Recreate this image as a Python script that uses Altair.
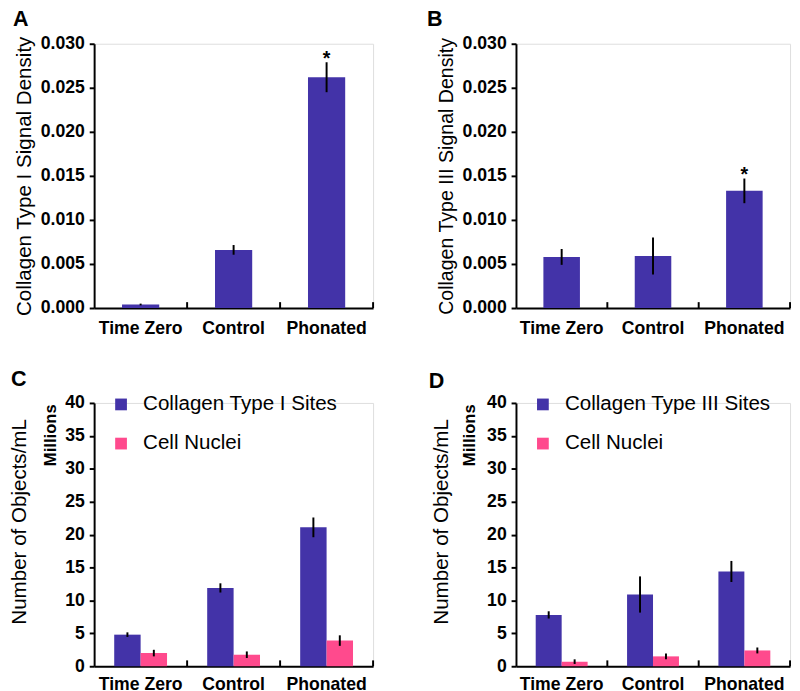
import altair as alt
import pandas as pd

categories = ["Time Zero", "Control", "Phonated"]

# Panel A: Collagen Type I signal density
a_mean = [0.0004, 0.0066, 0.0262]
a_err = [0.0001, 0.00055, 0.0017]
a_sig = ["", "", "*"]

# Panel B: Collagen Type III signal density
b_mean = [0.0058, 0.0059, 0.0133]
b_err = [0.0009, 0.0021, 0.0014]
b_sig = ["", "", "*"]

# Panel C: objects/mL (millions)
c_col_name = "Collagen Type I Sites"
c_col_mean = [4.8, 11.9, 21.1]
c_col_err = [0.35, 0.7, 1.5]
c_nuc_mean = [2.0, 1.75, 3.9]
c_nuc_err = [0.5, 0.5, 0.8]

# Panel D: objects/mL (millions)
d_col_name = "Collagen Type III Sites"
d_col_mean = [7.8, 10.9, 14.4]
d_col_err = [0.55, 2.75, 1.6]
d_nuc_mean = [0.7, 1.5, 2.4]
d_nuc_err = [0.35, 0.45, 0.45]

nuc_name = "Cell Nuclei"

PURPLE = "#4333A8"
PINK = "#FF4A8D"
FONT = "Liberation Sans"


def x_axis(pad):
    return alt.Axis(title=None, ticks=False, labelAngle=0, labelFontSize=18,
                    labelFontWeight="bold", labelPadding=pad, labelColor="black",
                    domainColor="black", domainWidth=2, labelFont=FONT,
                    labelOverlap=False)


def y_axis(title, values, fmt, title_pad, title_size, title_y=None):
    kw = dict(title=title, values=values, format=fmt, grid=False,
              labelFontSize=18, labelFontWeight="bold", labelColor="black",
              labelFont=FONT, labelPadding=5, tickSize=5, tickWidth=2,
              tickColor="black", domainColor="black", domainWidth=2,
              titleFontSize=title_size, titleFontWeight="normal", titleFont=FONT,
              titleColor="black", titlePadding=title_pad, labelOverlap=False)
    if title_y is not None:
        kw["titleY"] = title_y
    return alt.Axis(**kw)


def letter_layer(letter, lx, ly):
    return alt.Chart(pd.DataFrame({"t": [letter]})).mark_text(
        fontSize=22, fontWeight="bold", font=FONT, color="black",
        align="left", baseline="alphabetic").encode(
        x=alt.value(lx), y=alt.value(ly), text="t:N")


def single_panel(letter, mean, err, sig, ytitle, title_size, width, height,
                 title_pad, lx, ly):
    df = pd.DataFrame({
        "cat": categories,
        "mean": mean,
        "lo": [m - e for m, e in zip(mean, err)],
        "hi": [m + e for m, e in zip(mean, err)],
        "sig": sig,
    })
    base = alt.Chart(df)
    xs = alt.Scale(domain=categories, paddingInner=0, paddingOuter=0)
    ys = alt.Scale(domain=[0, 0.03], nice=False)
    xa = x_axis(12)
    ya = y_axis(ytitle, [0, 0.005, 0.01, 0.015, 0.02, 0.025, 0.03], ".3f",
                title_pad, title_size)
    bars = base.mark_bar(width=alt.RelativeBandSize(0.4), color=PURPLE).encode(
        x=alt.X("cat:N", scale=xs, axis=xa),
        y=alt.Y("mean:Q", scale=ys, axis=ya),
    )
    errs = base.mark_rule(strokeWidth=2, color="black").encode(
        x=alt.X("cat:N", scale=xs, axis=xa),
        y=alt.Y("lo:Q", scale=ys, axis=ya), y2="hi:Q")
    star = base.mark_text(fontSize=20, fontWeight="bold", font=FONT,
                          baseline="alphabetic", dy=3, color="black").encode(
        x=alt.X("cat:N", scale=xs, axis=xa),
        y=alt.Y("hi:Q", scale=ys, axis=ya), text="sig:N")
    tks = base.mark_rule(strokeWidth=2, color="black").encode(
        x=alt.X("cat:N", scale=xs, bandPosition=1, axis=xa),
        y=alt.value(height - 6), y2=alt.value(height))
    return alt.layer(bars, errs, star, tks, letter_layer(letter, lx, ly)).properties(
        width=width, height=height)


def grouped_panel(letter, col_name, col_mean, col_err, nuc_mean, nuc_err,
                  width, height, mill_x, lx, ly):
    series = [col_name] * 3 + [nuc_name] * 3
    mean = col_mean + nuc_mean
    err = col_err + nuc_err
    df = pd.DataFrame({
        "cat": categories * 2,
        "series": series,
        "mean": mean,
        "lo": [m - e for m, e in zip(mean, err)],
        "hi": [m + e for m, e in zip(mean, err)],
    })
    base = alt.Chart(df)
    xs = alt.Scale(domain=categories, paddingInner=0, paddingOuter=0)
    xo = alt.Scale(domain=[col_name, nuc_name], paddingInner=0, paddingOuter=0.76)
    ys = alt.Scale(domain=[0, 40], nice=False)
    xa = x_axis(10)
    ya = y_axis("Number of Objects/mL", list(range(0, 41, 5)), "d", 36, 21, 121)
    bars = base.mark_bar().encode(
        x=alt.X("cat:N", scale=xs, axis=xa),
        xOffset=alt.XOffset("series:N", scale=xo),
        y=alt.Y("mean:Q", scale=ys, axis=ya),
        color=alt.Color("series:N",
                        scale=alt.Scale(domain=[col_name, nuc_name],
                                        range=[PURPLE, PINK]),
                        legend=alt.Legend(orient="none", legendX=17, legendY=-9,
                                          title=None, symbolType="square",
                                          symbolSize=144, symbolStrokeWidth=0,
                                          labelFontSize=21, labelFont=FONT,
                                          labelColor="black", labelOffset=12,
                                          rowPadding=18, padding=0,
                                          labelLimit=400)),
    )
    errs = base.mark_rule(strokeWidth=2, color="black").encode(
        x=alt.X("cat:N", scale=xs, axis=xa),
        xOffset=alt.XOffset("series:N", scale=xo),
        y=alt.Y("lo:Q", scale=ys, axis=ya), y2="hi:Q")
    tks = alt.Chart(pd.DataFrame({"cat": categories})).mark_rule(
        strokeWidth=2, color="black").encode(
        x=alt.X("cat:N", scale=xs, bandPosition=1, axis=xa),
        y=alt.value(height - 6), y2=alt.value(height))
    mill = alt.Chart(pd.DataFrame({"t": ["Millions"]})).mark_text(
        angle=270, fontSize=17, fontWeight="bold", font=FONT, color="black",
        align="center", baseline="middle").encode(
        x=alt.value(mill_x), y=alt.value(33), text="t:N")
    return alt.layer(bars, errs, tks, mill, letter_layer(letter, lx, ly)).properties(
        width=width, height=height)


pa = single_panel("A", a_mean, a_err, a_sig, "Collagen Type I Signal Density", 21,
                  285, 270, 6, -83, -18)
pb = single_panel("B", b_mean, b_err, b_sig, "Collagen Type III Signal Density",
                  20, 280, 270, 6, -91, -18)
pc = grouped_panel("C", c_col_name, c_col_mean, c_col_err, c_nuc_mean, c_nuc_err,
                   285, 269, -44, -85, -17)
pd_ = grouped_panel("D", d_col_name, d_col_mean, d_col_err, d_nuc_mean, d_nuc_err,
                    280, 269, -47, -89, -15)

chart = alt.concat(pa, pb, pc, pd_, columns=2,
                   spacing={"row": 30, "column": 52}).resolve_scale(
    color="independent", xOffset="independent").resolve_legend(
    color="independent").properties(
    padding={"left": 0, "right": 0, "top": -8, "bottom": 0},
    autosize=alt.AutoSizeParams(type="pad")).configure_view(
    stroke="transparent").configure(font=FONT)

chart.save("out.html", embed_options={"renderer": "svg", "actions": False})
